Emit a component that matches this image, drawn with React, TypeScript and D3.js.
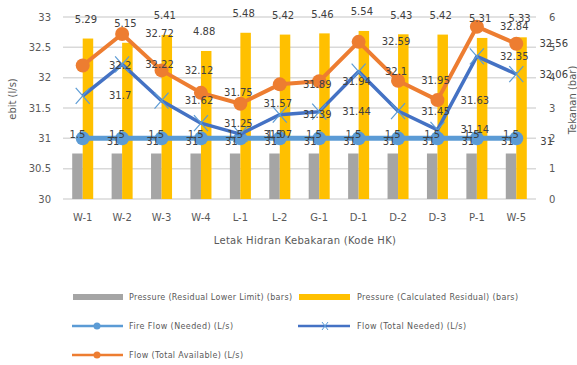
import React from "react";
import * as d3 from "d3";

const categories = ["W-1", "W-2", "W-3", "W-4", "L-1", "L-2", "G-1", "D-1", "D-2", "D-3", "P-1", "W-5"];
const pressureLower = [1.5, 1.5, 1.5, 1.5, 1.5, 1.5, 1.5, 1.5, 1.5, 1.5, 1.5, 1.5];
const pressureCalc = [5.29, 5.15, 5.41, 4.88, 5.48, 5.42, 5.46, 5.54, 5.43, 5.42, 5.31, 5.33];
const fireFlowNeeded = [31, 31, 31, 31, 31, 31, 31, 31, 31, 31, 31, 31];
const flowTotalNeeded = [31.7, 32.22, 31.62, 31.25, 31.07, 31.39, 31.44, 32.1, 31.45, 31.14, 32.35, 32.06];
const flowTotalAvailable = [32.2, 32.72, 32.12, 31.75, 31.57, 31.89, 31.94, 32.59, 31.95, 31.63, 32.84, 32.56];
const leftTicks = [30, 30.5, 31, 31.5, 32, 32.5, 33];
const rightTicks = [0, 1, 2, 3, 4, 5, 6];

const W = 577;
const H = 365;
const FONT = "'DejaVu Sans', sans-serif";
const GRAY = "#A5A5A5";
const YELLOW = "#FFC000";
const LBLUE = "#5B9BD5";
const DBLUE = "#4472C4";
const ORANGE = "#ED7D31";
const LABEL = "#404040";
const TICK = "#595959";

export default function App() {
  const x = d3.scaleBand<string>().domain(categories).range([63, 536]).padding(0);
  const bw = x.bandwidth();
  const cx = (i: number) => (x(categories[i]) ?? 63 + i * bw) + bw / 2;
  const yL = d3.scaleLinear().domain([30, 33]).range([199, 17]);
  const yR = d3.scaleLinear().domain([0, 6]).range([199, 17]);
  const barW = 10.5;

  const line = (vals: number[]) =>
    d3.line<number>().x((_, i) => cx(i)).y((v) => yL(v))(vals) || "";

  return (
    <svg width={W} height={H} style={{ position: "absolute", left: 0, top: 0, background: "#fff" }} fontFamily={FONT}>
      {leftTicks.map((t) => (
        <line key={t} x1={63} x2={536} y1={yL(t)} y2={yL(t)} stroke="#D9D9D9" strokeWidth={1.5} />
      ))}
      {leftTicks.map((t) => (
        <text key={"l" + t} x={51} y={yL(t)} textAnchor="end" dominantBaseline="central" fontSize={10} fill={TICK}>
          {String(t)}
        </text>
      ))}
      {rightTicks.map((t) => (
        <text key={"r" + t} x={549} y={yR(t)} textAnchor="start" dominantBaseline="central" fontSize={10} fill={TICK}>
          {String(t)}
        </text>
      ))}
      {pressureLower.map((v, i) => (
        <rect key={"g" + i} x={cx(i) - barW} y={yR(v)} width={barW} height={yR(0) - yR(v)} fill={GRAY} />
      ))}
      {pressureCalc.map((v, i) => (
        <rect key={"y" + i} x={cx(i)} y={yR(v)} width={barW} height={yR(0) - yR(v)} fill={YELLOW} />
      ))}
      <path d={line(fireFlowNeeded)} fill="none" stroke={LBLUE} strokeWidth={5} strokeLinejoin="round" />
      {fireFlowNeeded.map((v, i) => (
        <circle key={"fc" + i} cx={cx(i)} cy={yL(v)} r={7} fill={LBLUE} />
      ))}
      <path d={line(flowTotalNeeded)} fill="none" stroke={DBLUE} strokeWidth={3.5} strokeLinejoin="round" />
      {flowTotalNeeded.map((v, i) => (
        <g key={"x" + i} stroke={LBLUE} strokeWidth={1.2}>
          <line x1={cx(i) - 7} x2={cx(i) + 7} y1={yL(v) - 8} y2={yL(v) + 8} />
          <line x1={cx(i) - 7} x2={cx(i) + 7} y1={yL(v) + 8} y2={yL(v) - 8} />
        </g>
      ))}
      <path d={line(flowTotalAvailable)} fill="none" stroke={ORANGE} strokeWidth={4} strokeLinejoin="round" />
      {flowTotalAvailable.map((v, i) => (
        <circle key={"oc" + i} cx={cx(i)} cy={yL(v)} r={7} fill={ORANGE} />
      ))}
      <g fontSize={10} fill={LABEL}>
        {pressureLower.map((v, i) => (
          <text key={"gl" + i} x={cx(i) - barW / 2} y={yR(v) - 19} textAnchor="middle" dominantBaseline="central">
            {String(v)}
          </text>
        ))}
        {pressureCalc.map((v, i) => (
          <text key={"yl" + i} x={cx(i) + barW / 2 - 2} y={yR(v) - 19} textAnchor="middle" dominantBaseline="central">
            {v.toFixed(2)}
          </text>
        ))}
        {fireFlowNeeded.map((v, i) => (
          <text key={"fl" + i} x={cx(i) + bw - 9} y={yL(v) + 3} textAnchor="middle" dominantBaseline="central">
            {String(v)}
          </text>
        ))}
        {flowTotalNeeded.map((v, i) => (
          <text key={"nl" + i} x={cx(i) + bw - 2} y={yL(v)} textAnchor="middle" dominantBaseline="central">
            {String(v)}
          </text>
        ))}
        {flowTotalAvailable.map((v, i) => (
          <text key={"al" + i} x={cx(i) + bw - 2} y={yL(v)} textAnchor="middle" dominantBaseline="central">
            {String(v)}
          </text>
        ))}
      </g>
      {categories.map((c, i) => (
        <text key={"c" + c} x={cx(i)} y={217} textAnchor="middle" dominantBaseline="central" fontSize={10} fill={TICK}>
          {c}
        </text>
      ))}
      <text x={305} y={240} textAnchor="middle" dominantBaseline="central" fontSize={10} fill={TICK} letterSpacing={0.3}>
        Letak Hidran Kebakaran (Kode HK)
      </text>
      <text transform="translate(12,99) rotate(-90)" textAnchor="middle" dominantBaseline="central" fontSize={10} fill={TICK}>
        ebit (l/s)
      </text>
      <text transform="translate(572,100) rotate(-90)" textAnchor="middle" dominantBaseline="central" fontSize={10} fill={TICK}>
        Tekanan (bar)
      </text>
      <g fontFamily={FONT} fontSize={8} fill={TICK}>
        <rect x={73} y={294} width={50} height={6} fill={GRAY} />
        <text x={129} y={297} dominantBaseline="central" textLength={163} lengthAdjust="spacing">Pressure (Residual Lower Limit) (bars)</text>
        <rect x={299} y={294} width={51} height={6} fill={YELLOW} />
        <text x={357} y={297} dominantBaseline="central" textLength={161} lengthAdjust="spacing">Pressure (Calculated Residual) (bars)</text>

        <line x1={72} x2={123} y1={326} y2={326} stroke={LBLUE} strokeWidth={2.5} />
        <circle cx={97} cy={326} r={3.5} fill={LBLUE} />
        <text x={129} y={326} dominantBaseline="central" textLength={104} lengthAdjust="spacing">Fire Flow (Needed) (L/s)</text>
        <line x1={298} x2={350} y1={326} y2={326} stroke={DBLUE} strokeWidth={2.5} />
        <g stroke={LBLUE} strokeWidth={1}>
          <line x1={322} x2={328} y1={322} y2={330} />
          <line x1={322} x2={328} y1={330} y2={322} />
        </g>
        <text x={357} y={326} dominantBaseline="central" textLength={109} lengthAdjust="spacing">Flow (Total Needed) (L/s)</text>

        <line x1={72} x2={123} y1={355} y2={355} stroke={ORANGE} strokeWidth={2.5} />
        <circle cx={97} cy={355} r={3.5} fill={ORANGE} />
        <text x={129} y={355} dominantBaseline="central" textLength={114} lengthAdjust="spacing">Flow (Total Available) (L/s)</text>
      </g>
    </svg>
  );
}
